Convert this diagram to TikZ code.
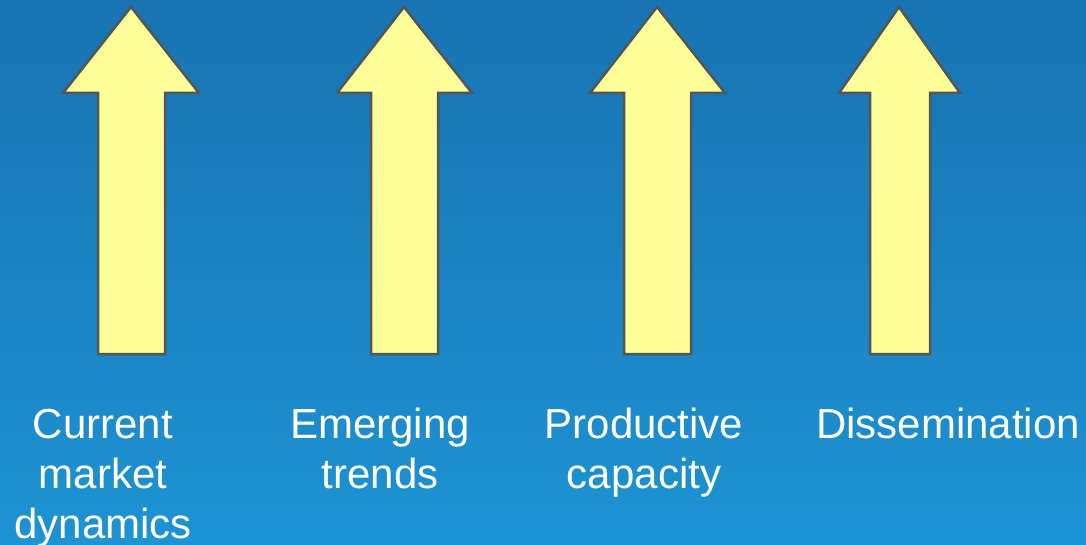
\documentclass[tikz,border=0pt]{standalone}
\usepackage{fontspec}
\setmainfont{Liberation Sans}
\definecolor{bgtop}{HTML}{1873B2}
\definecolor{bgbottom}{HTML}{1D93D3}
\definecolor{arrowfill}{HTML}{FFFF99}
\definecolor{arrowline}{HTML}{555555}
\begin{document}
\begin{tikzpicture}[x=1pt,y=-1pt,
  uparrow/.style={fill=arrowfill, draw=arrowline, line width=2.5pt, line join=miter},
  caption/.style={text=white, font=\fontsize{42}{50}\selectfont, align=center,
    anchor=base, inner sep=0pt}]
  \shade[top color=bgtop, bottom color=bgbottom] (0,0) rectangle (1086,545);
  \useasboundingbox (0,0) rectangle (1086,545);

  % four upward block arrows
  \draw[uparrow] (131,7) coordinate (a1) -- (199,93) -- (165,93) -- (165,354)
    -- (98,354) -- (98,93) -- (63,93) -- cycle;
  \draw[uparrow] (404,7) coordinate (a2) -- (472,93) -- (438,93) -- (438,354)
    -- (371,354) -- (371,93) -- (337,93) -- cycle;
  \draw[uparrow] (657,7) coordinate (a3) -- (725,93) -- (691,93) -- (691,354)
    -- (624,354) -- (624,93) -- (590,93) -- cycle;
  \draw[uparrow] (899,7) coordinate (a4) -- (960,93) -- (930,93) -- (930,354)
    -- (870,354) -- (870,93) -- (839,93) -- cycle;

  % captions, placed by the baseline of their last line
  \node[caption] (l1) at (103,538) {Current\\market\\dynamics};
  \node[caption] (l2) at (380,488) {Emerging\\trends};
  \node[caption] (l3) at (644,488) {Productive\\capacity};
  \node[caption] (l4) at (948,438) {Dissemination};
\end{tikzpicture}
\end{document}
